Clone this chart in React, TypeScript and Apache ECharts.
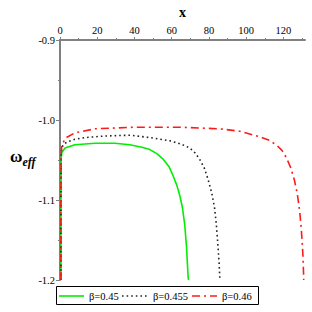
import React, { useEffect, useRef } from "react";
import * as echarts from "echarts";

const xTicks = [0, 20, 40, 60, 80, 100, 120];
const yTicks = [-0.9, -1.0, -1.1, -1.2];

const seriesNames = ["β=0.45", "β=0.455", "β=0.46"];
const seriesColors = ["#00ee00", "#222222", "#ff1a1a"];

const x045 = [0.5, 0.5, 0.6, 0.9, 2.7, 8, 18.8, 29.5, 37.5, 44, 48.3, 52, 55.4, 58.5, 60.8, 62.8, 64.3, 65.8, 67.0, 68.0, 68.8, 69.1];
const y045 = [-1.2, -1.1, -1.05, -1.041, -1.035, -1.031, -1.029, -1.029, -1.031, -1.034, -1.037, -1.042, -1.049, -1.058, -1.07, -1.082, -1.094, -1.11, -1.131, -1.16, -1.196, -1.2];

const x0455 = [0.5, 0.5, 0.6, 0.9, 2, 4.5, 8, 13.4, 24.1, 37.5, 48.3, 59, 65, 69.7, 72.5, 75, 77.5, 79.5, 81.5, 83.1, 84.1, 84.9, 85.5, 85.8, 85.9];
const y0455 = [-1.2, -1.1, -1.045, -1.035, -1.03, -1.027, -1.024, -1.022, -1.02, -1.019, -1.022, -1.026, -1.03, -1.035, -1.041, -1.049, -1.06, -1.074, -1.091, -1.111, -1.134, -1.159, -1.18, -1.196, -1.2];

const x046 = [0.5, 0.5, 0.6, 0.9, 2.7, 8, 18.8, 40.2, 64.3, 85.8, 96.5, 107.2, 112, 116.2, 119.2, 121.6, 124, 126, 127.5, 128.7, 129.5, 130.1, 130.5, 130.8, 130.9];
const y046 = [-1.2, -1.1, -1.045, -1.033, -1.023, -1.016, -1.011, -1.009, -1.009, -1.011, -1.014, -1.021, -1.025, -1.031, -1.038, -1.047, -1.06, -1.076, -1.093, -1.113, -1.133, -1.153, -1.17, -1.19, -1.2];

const zip = (xs: number[], ys: number[]) => xs.map((x, i) => [x, ys[i]]);

const FONT = "'Liberation Serif', 'Times New Roman', serif";

export default function App() {
  const ref = useRef<HTMLDivElement>(null);
  useEffect(() => {
    if (!ref.current) return;
    const chart = echarts.init(ref.current, undefined, { renderer: "svg" });
    const legendY = 296;
    const legendItems = [
      { lx: 59, tx: 89, dash: null as number[] | null },
      { lx: 122, tx: 153, dash: [1.6, 3] },
      { lx: 192, tx: 222, dash: [8, 4, 2, 4] },
    ];
    const legendGraphics: any[] = [
      {
        type: "rect",
        shape: { x: 56.5, y: 286.5, width: 202, height: 18 },
        style: { fill: "#fff", stroke: "#000", lineWidth: 1 },
      },
    ];
    legendItems.forEach((it, i) => {
      legendGraphics.push({
        type: "line",
        shape: { x1: it.lx, y1: legendY, x2: it.lx + 25, y2: legendY },
        style: { stroke: seriesColors[i], lineWidth: 1.6, lineDash: it.dash || undefined },
      });
      legendGraphics.push({
        type: "text",
        x: it.tx,
        y: legendY,
        style: {
          text: seriesNames[i],
          fontFamily: FONT,
          fontSize: 10.5,
          fill: "#000",
          verticalAlign: "middle",
        },
      });
    });
    chart.setOption({
      animation: false,
      backgroundColor: "#ffffff",
      grid: { left: 60, top: 35, width: 245, height: 245 },
      xAxis: {
        type: "value",
        position: "top",
        min: 0,
        max: 131.6,
        interval: 20,
        name: "x",
        nameLocation: "middle",
        nameGap: 21,
        nameTextStyle: { fontFamily: FONT, fontWeight: "bold", fontSize: 14, color: "#000" },
        axisLine: { lineStyle: { color: "#808080", width: 2 } },
        axisTick: { show: true, length: 3, lineStyle: { color: "#808080" }, customValues: xTicks },
        minorTick: { show: true, splitNumber: 2, length: 2, lineStyle: { color: "#808080" } },
        axisLabel: {
          fontFamily: FONT, fontSize: 10.5, color: "#000", margin: 4,
          customValues: xTicks,
        },
        splitLine: { show: false },
      },
      yAxis: {
        type: "value",
        min: -1.2,
        max: -0.9,
        interval: 0.1,
        axisLine: { onZero: false, lineStyle: { color: "#808080", width: 2 } },
        axisTick: { show: true, length: 4, lineStyle: { color: "#808080" }, customValues: yTicks },
        minorTick: { show: true, splitNumber: 2, length: 2, lineStyle: { color: "#808080" } },
        axisLabel: {
          fontFamily: FONT, fontSize: 10.5, color: "#000", margin: 5,
          customValues: yTicks,
          formatter: (v: number) => v.toFixed(1),
        },
        splitLine: { show: false },
      },
      graphic: [
        {
          type: "text",
          left: 10,
          top: 148,
          style: {
            text: "{w|ω}{s|eff}",
            rich: {
              w: { fontFamily: FONT, fontWeight: "bold", fontSize: 17, fill: "#000" },
              s: { fontFamily: FONT, fontWeight: "bold", fontStyle: "italic", fontSize: 12, fill: "#000", padding: [10, 0, 0, 0] },
            },
          },
        },
        ...legendGraphics,
      ],
      series: [
        {
          name: seriesNames[0], type: "line", symbol: "none", smooth: false,
          data: zip(x045, y045),
          lineStyle: { color: seriesColors[0], width: 1.6 },
        },
        {
          name: seriesNames[1], type: "line", symbol: "none", smooth: false,
          data: zip(x0455, y0455),
          lineStyle: { color: seriesColors[1], width: 1.6, type: [1.6, 3] },
        },
        {
          name: seriesNames[2], type: "line", symbol: "none", smooth: false,
          data: zip(x046, y046),
          lineStyle: { color: seriesColors[2], width: 1.6, type: [8, 4, 2, 4] },
        },
      ],
    });
    return () => chart.dispose();
  }, []);
  return <div ref={ref} style={{ position: "fixed", left: 0, top: 0, width: 312, height: 312 }} />;
}
